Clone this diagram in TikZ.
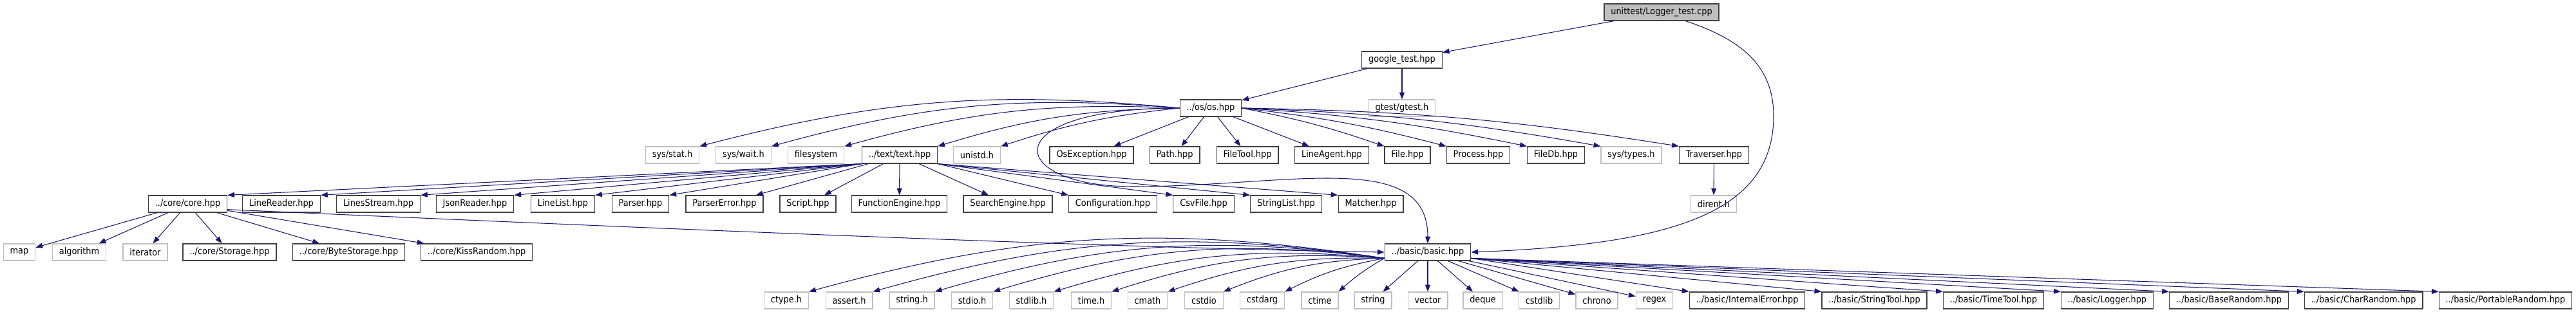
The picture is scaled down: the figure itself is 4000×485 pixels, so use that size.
\documentclass[tikz,border=0pt]{standalone}
\usepackage{fontspec}
\setmainfont{DejaVu Sans Condensed}
\usepackage{tikz}
\usetikzlibrary{arrows.meta}
\usepackage{xcolor}
\definecolor{EdgeNavy}{HTML}{191970}
\definecolor{FrameGrey}{HTML}{404040}
\definecolor{SysGrey}{HTML}{BFBFBF}
\definecolor{RootGrey}{HTML}{BFBFBF}

\begin{document}
\begin{tikzpicture}[x=0.025cm,y=-0.025cm,
  hdr/.style={draw=FrameGrey,fill=white,line width=0.9pt,minimum height=0.65cm,
    inner xsep=0.26cm,inner ysep=0pt,font=\fontsize{10.2}{12}\selectfont},
  syshdr/.style={hdr,draw=SysGrey},
  roothdr/.style={hdr,fill=RootGrey},
  dep/.style={draw=EdgeNavy,line width=0.75pt,-{Triangle[length=0.27cm,width=0.2cm]}}]
\fill[white] (0,0) rectangle (4000,485);
\useasboundingbox (0,0) rectangle (4000,485);

% top of the graph
\node[roothdr] (logger) at (2580,19) {unittest/Logger\_test.cpp};
\node[hdr] (google) at (2177,93) {google\_test.hpp};
\node[hdr] (os) at (1880,168) {../os/os.hpp};
\node[syshdr] (gtest) at (2177,168) {gtest/gtest.h};

% headers of os.hpp
\node[syshdr] (sysstat) at (1044,241) {sys/stat.h};
\node[syshdr] (syswait) at (1154.5,241) {sys/wait.h};
\node[syshdr] (filesystem) at (1267,241) {filesystem};
\node[hdr] (text) at (1397,241) {../text/text.hpp};
\node[syshdr] (unistd) at (1517,241) {unistd.h};
\node[hdr] (osexc) at (1695,241) {OsException.hpp};
\node[hdr] (path) at (1824,241) {Path.hpp};
\node[hdr] (filetool) at (1937,241) {FileTool.hpp};
\node[hdr] (lineagent) at (2068,241) {LineAgent.hpp};
\node[hdr] (file) at (2185.5,241) {File.hpp};
\node[hdr] (process) at (2295.5,241) {Process.hpp};
\node[hdr] (filedb) at (2416,241) {FileDb.hpp};
\node[syshdr] (systypes) at (2533,241) {sys/types.h};
\node[hdr] (traverser) at (2661.5,241) {Traverser.hpp};

% headers of text.hpp
\node[hdr] (core) at (291.5,317) {../core/core.hpp};
\node[hdr] (linereader) at (437,317) {LineReader.hpp};
\node[hdr] (linesstream) at (587.5,317) {LinesStream.hpp};
\node[hdr] (jsonreader) at (737.5,317) {JsonReader.hpp};
\node[hdr] (linelist) at (874,317) {LineList.hpp};
\node[hdr] (parser) at (994.5,317) {Parser.hpp};
\node[hdr] (parsererror) at (1125,317) {ParserError.hpp};
\node[hdr] (script) at (1254.5,317) {Script.hpp};
\node[hdr] (funcengine) at (1396.5,317) {FunctionEngine.hpp};
\node[hdr] (searchengine) at (1565,317) {SearchEngine.hpp};
\node[hdr] (config) at (1728,317) {Configuration.hpp};
\node[hdr] (csvfile) at (1869,317) {CsvFile.hpp};
\node[hdr] (stringlist) at (1997,317) {StringList.hpp};
\node[hdr] (matcher) at (2128.5,317) {Matcher.hpp};
\node[syshdr] (dirent) at (2661,317) {dirent.h};

% headers of core.hpp
\node[syshdr] (map) at (30,392) {map};
\node[syshdr] (algorithm) at (123,392) {algorithm};
\node[syshdr] (iterator) at (225.5,392) {iterator};
\node[hdr] (storage) at (356.5,392) {../core/Storage.hpp};
\node[hdr] (bytestorage) at (541.5,392) {../core/ByteStorage.hpp};
\node[hdr] (kissrandom) at (740,392) {../core/KissRandom.hpp};
\node[hdr] (basic) at (2217,392) {../basic/basic.hpp};

% headers of basic.hpp
\node[syshdr] (ctype) at (1221,467) {ctype.h};
\node[syshdr] (assert) at (1318.5,467) {assert.h};
\node[syshdr] (stringh) at (1416,467) {string.h};
\node[syshdr] (stdio) at (1509.5,467) {stdio.h};
\node[syshdr] (stdlib) at (1601.5,467) {stdlib.h};
\node[syshdr] (timeh) at (1694.5,467) {time.h};
\node[syshdr] (cmath) at (1782,467) {cmath};
\node[syshdr] (cstdio) at (1869.5,467) {cstdio};
\node[syshdr] (cstdarg) at (1960,467) {cstdarg};
\node[syshdr] (ctime) at (2049.5,467) {ctime};
\node[syshdr] (string) at (2132,467) {string};
\node[syshdr] (vector) at (2217,467) {vector};
\node[syshdr] (deque) at (2302.5,467) {deque};
\node[syshdr] (cstdlib) at (2390,467) {cstdlib};
\node[syshdr] (chrono) at (2479.5,467) {chrono};
\node[syshdr] (regex) at (2569,467) {regex};
\node[hdr] (internalerror) at (2713,467) {../basic/InternalError.hpp};
\node[hdr] (stringtool) at (2910.5,467) {../basic/StringTool.hpp};
\node[hdr] (timetool) at (3095.5,467) {../basic/TimeTool.hpp};
\node[hdr] (loggerh) at (3272,467) {../basic/Logger.hpp};
\node[hdr] (baserandom) at (3461,467) {../basic/BaseRandom.hpp};
\node[hdr] (charrandom) at (3670,467) {../basic/CharRandom.hpp};
\node[hdr] (portablerandom) at (3890.5,467) {../basic/PortableRandom.hpp};

% include edges
\draw[dep] (logger) -- (google);
\draw[dep] (logger.-20) .. controls (2700,60) and (2754,100) .. (2754,180)
  .. controls (2754,330) and (2600,380) .. (basic.east);
\draw[dep] (google) -- (os);
\draw[dep] (google) -- (gtest);
\foreach \t/\b in {sysstat/10,syswait/10,filesystem/9,text/8,unistd/6}
  \draw[dep] (os.west) to[bend right=\b] (\t.north east);
\foreach \t in {osexc,path,filetool,lineagent}
  \draw[dep] (os) -- (\t);
\foreach \t in {file,process,filedb,systypes,traverser}
  \draw[dep] (os.east) to[bend left=4] (\t.north west);
\draw[dep] (os.west) .. controls (1540,168) and (1560,290) .. (1760,290)
  .. controls (2000,290) and (2217,230) .. (basic.north);
\draw[dep] (traverser) -- (dirent);
\foreach \t in {core,linereader,linesstream,jsonreader,linelist,parser}
  \draw[dep] (text.south west) -- (\t.north east);
\foreach \t in {parsererror,script,funcengine,searchengine}
  \draw[dep] (text) -- (\t);
\foreach \t in {config,csvfile,stringlist,matcher}
  \draw[dep] (text.south east) -- (\t.north west);
\foreach \t in {map,algorithm,iterator,storage,bytestorage,kissrandom}
  \draw[dep] (core) -- (\t);
\draw[dep] (core.-8) .. controls (900,350) and (1700,385) .. (basic.west);
\foreach \t/\b in {ctype/12,assert/12,stringh/12,stdio/12,stdlib/11,timeh/11,cmath/10,cstdio/10,cstdarg/8,ctime/6}
  \draw[dep] (basic.188) to[bend right=\b] (\t.north east);
\foreach \t in {string,vector,deque,cstdlib,chrono,regex}
  \draw[dep] (basic) -- (\t);
\foreach \t in {internalerror,stringtool,timetool,loggerh,baserandom,charrandom,portablerandom}
  \draw[dep] (basic.-8) -- (\t.north west);
\end{tikzpicture}
\end{document}
